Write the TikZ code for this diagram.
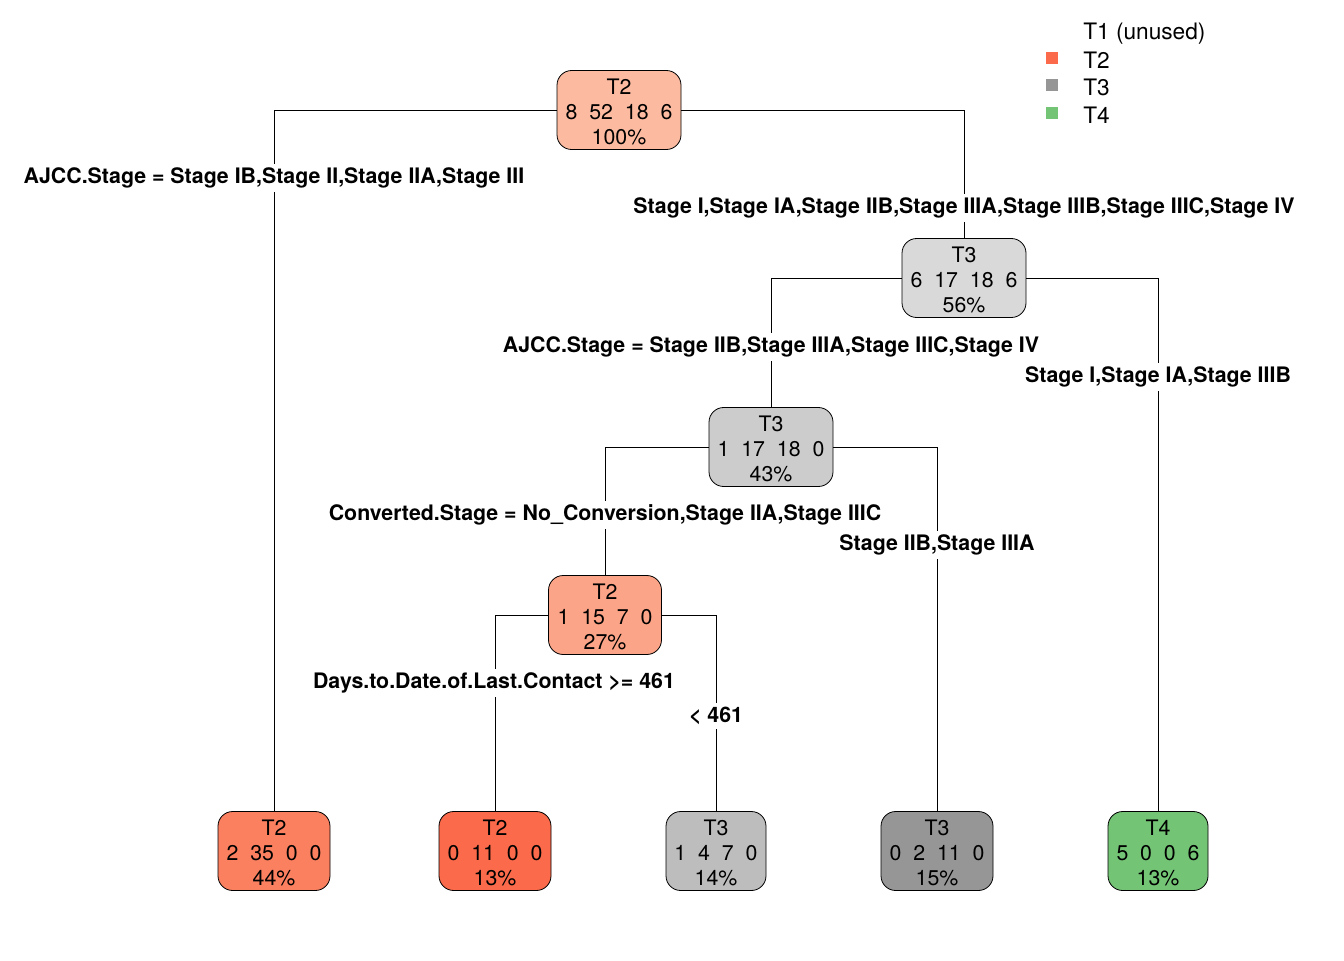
\documentclass[tikz,border=0pt]{standalone}
\usepackage{fontspec}
\setmainfont{TeX Gyre Heros}
\definecolor{cRoot}{HTML}{FCBBA1}
\definecolor{cNa}{HTML}{D9D9D9}
\definecolor{cNb}{HTML}{CCCCCC}
\definecolor{cNc}{HTML}{FCA487}
\definecolor{cLa}{HTML}{FB8060}
\definecolor{cLb}{HTML}{FB6A4A}
\definecolor{cLc}{HTML}{BDBDBD}
\definecolor{cLd}{HTML}{969696}
\definecolor{cLe}{HTML}{74C476}
\begin{document}
\begin{tikzpicture}[x=0.75pt,y=-0.75pt,
  box/.style={draw, rounded corners=11pt, line width=0.6pt, inner sep=0pt,
    minimum height=59.25pt, align=center, font=\fontsize{16}{18.75}\selectfont},
  edge/.style={draw, line width=0.6pt},
  lbl/.style={fill=white, inner xsep=2pt, inner ysep=3pt, font=\bfseries\fontsize{16}{18}\selectfont},
  leg/.style={fill, minimum size=9pt, inner sep=0pt},
  legtxt/.style={anchor=west, inner sep=0pt, font=\fontsize{17}{19}\selectfont}]
\useasboundingbox (0,0) rectangle (1344,960);
% nodes
\node[box, fill=cRoot, minimum width=93pt] (root) at (619,110) {\rule{0pt}{14.5pt}T2\\8\ \ 52\ \ 18\ \ 6\\100\%};
\node[box, fill=cNa, minimum width=93pt] (n2) at (964,278) {\rule{0pt}{14.5pt}T3\\6\ \ 17\ \ 18\ \ 6\\56\%};
\node[box, fill=cNb, minimum width=93pt] (n3) at (771,447) {\rule{0pt}{14.5pt}T3\\1\ \ 17\ \ 18\ \ 0\\43\%};
\node[box, fill=cNc, minimum width=84.75pt] (n4) at (605,615) {\rule{0pt}{14.5pt}T2\\1\ \ 15\ \ 7\ \ 0\\27\%};
\node[box, fill=cLa, minimum width=84pt] (l1) at (274,851) {\rule{0pt}{14.5pt}T2\\2\ \ 35\ \ 0\ \ 0\\44\%};
\node[box, fill=cLb, minimum width=84pt] (l2) at (495,851) {\rule{0pt}{14.5pt}T2\\0\ \ 11\ \ 0\ \ 0\\13\%};
\node[box, fill=cLc, minimum width=75pt] (l3) at (716,851) {\rule{0pt}{14.5pt}T3\\1\ \ 4\ \ 7\ \ 0\\14\%};
\node[box, fill=cLd, minimum width=84pt] (l4) at (937,851) {\rule{0pt}{14.5pt}T3\\0\ \ 2\ \ 11\ \ 0\\15\%};
\node[box, fill=cLe, minimum width=75pt] (l5) at (1158,851) {\rule{0pt}{14.5pt}T4\\5\ \ 0\ \ 0\ \ 6\\13\%};
% edges
\draw[edge] (root.west) -| (l1.north);
\draw[edge] (root.east) -| (n2.north);
\draw[edge] (n2.west) -| (n3.north);
\draw[edge] (n2.east) -| (l5.north);
\draw[edge] (n3.west) -| (n4.north);
\draw[edge] (n3.east) -| (l4.north);
\draw[edge] (n4.west) -| (l2.north);
\draw[edge] (n4.east) -| (l3.north);
% split labels
\node[lbl] (s1) at (274,178) {AJCC.Stage = Stage IB,Stage II,Stage IIA,Stage III};
\node[lbl] (s2) at (964,208) {Stage I,Stage IA,Stage IIB,Stage IIIA,Stage IIIB,Stage IIIC,Stage IV};
\node[lbl] (s3) at (771,347) {AJCC.Stage = Stage IIB,Stage IIIA,Stage IIIC,Stage IV};
\node[lbl] (s4) at (1158,377) {Stage I,Stage IA,Stage IIIB};
\node[lbl] (s5) at (605,515) {Converted.Stage = No\_Conversion,Stage IIA,Stage IIIC};
\node[lbl] (s6) at (937,545) {Stage IIB,Stage IIIA};
\node[lbl] (s7) at (494,683) {Days.to.Date.of.Last.Contact >= 461};
\node[lbl] (s8) at (716,716) {< 461};
% legend
\node[legtxt] (g1) at (1083,34) {T1 (unused)};
\node[legtxt] (g2) at (1083,60) {T2};
\node[legtxt] (g3) at (1083,87) {T3};
\node[legtxt] (g4) at (1083,115) {T4};
\node[leg, fill=cLb] (k2) at (1052,58) {};
\node[leg, fill=cLd] (k3) at (1052,85) {};
\node[leg, fill=cLe] (k4) at (1052,113) {};
\end{tikzpicture}
\end{document}
